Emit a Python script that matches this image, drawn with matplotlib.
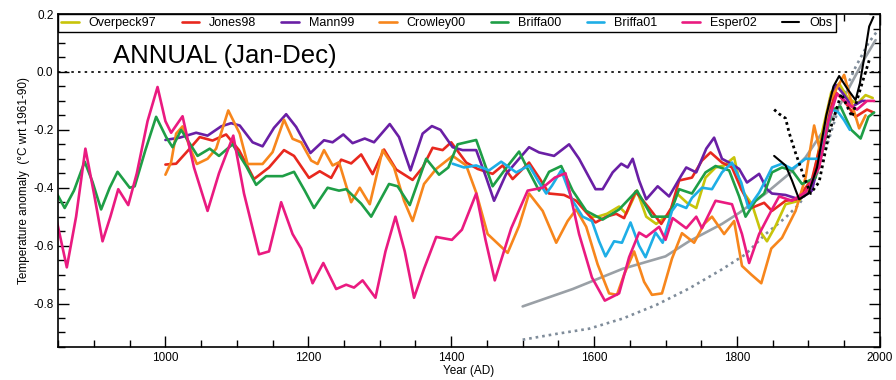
import matplotlib
matplotlib.use("Agg")
import matplotlib.pyplot as plt

plt.rcParams['font.family'] = ['Liberation Sans', 'DejaVu Sans']
plt.rcParams['lines.solid_joinstyle'] = 'round'
plt.rcParams['lines.solid_capstyle'] = 'round'

# Esper02
esper_yr = [848, 862, 875, 888, 900, 912, 923, 934, 948, 960, 975, 989, 1000, 1008,
            1024, 1040, 1059, 1075, 1095, 1110, 1131, 1145, 1162, 1178, 1190, 1206,
            1221, 1239, 1253, 1264, 1276, 1294, 1308, 1322, 1335, 1348, 1362, 1379,
            1401, 1415, 1435, 1448, 1461, 1484, 1507, 1528, 1545, 1560, 1579, 1597,
            1615, 1635, 1649, 1663, 1673, 1691, 1700, 1710, 1729, 1743, 1751, 1770,
            1793, 1807, 1817, 1831, 1849, 1859, 1877, 1896, 1915, 1928, 1940, 1955,
            1968, 1982, 1992]
esper_t = [-0.515, -0.675, -0.5, -0.265, -0.42, -0.585, -0.5, -0.405, -0.46, -0.35,
           -0.17, -0.052, -0.17, -0.21, -0.153, -0.33, -0.48, -0.35, -0.22, -0.42,
           -0.63, -0.62, -0.45, -0.56, -0.61, -0.73, -0.66, -0.75, -0.735, -0.745,
           -0.72, -0.78, -0.62, -0.50, -0.62, -0.78, -0.68, -0.57, -0.58, -0.545,
           -0.42, -0.58, -0.72, -0.54, -0.41, -0.40, -0.365, -0.35, -0.56, -0.71,
           -0.79, -0.765, -0.64, -0.555, -0.57, -0.535, -0.58, -0.505, -0.54, -0.50,
           -0.54, -0.445, -0.457, -0.56, -0.66, -0.56, -0.475, -0.43, -0.445, -0.415,
           -0.33, -0.17, -0.075, -0.11, -0.13, -0.1, -0.1]

# Briffa00
briffa00_yr = [848, 859, 872, 887, 898, 910, 922, 933, 950, 957, 972, 987, 1001, 1010,
               1022, 1045, 1062, 1075, 1094, 1113, 1127, 1141, 1164, 1180, 1195, 1208,
               1227, 1243, 1253, 1274, 1288, 1313, 1325, 1342, 1365, 1383, 1396, 1409,
               1435, 1458, 1479, 1495, 1507, 1523, 1537, 1554, 1570, 1589, 1612, 1635,
               1660, 1681, 1705, 1719, 1737, 1756, 1770, 1789, 1803, 1812, 1826, 1838,
               1849, 1863, 1877, 1891, 1910, 1922, 1933, 1945, 1960, 1973, 1984, 1992]
briffa00_t = [-0.42, -0.47, -0.41, -0.31, -0.38, -0.475, -0.40, -0.345, -0.40, -0.395,
              -0.27, -0.155, -0.225, -0.26, -0.2, -0.29, -0.265, -0.29, -0.25, -0.325,
              -0.39, -0.36, -0.36, -0.345, -0.41, -0.47, -0.40, -0.41, -0.405, -0.455,
              -0.50, -0.387, -0.395, -0.46, -0.30, -0.355, -0.33, -0.25, -0.235, -0.395,
              -0.325, -0.275, -0.335, -0.41, -0.345, -0.325, -0.41, -0.48, -0.51, -0.475,
              -0.41, -0.50, -0.50, -0.405, -0.42, -0.347, -0.325, -0.34, -0.43, -0.50,
              -0.445, -0.42, -0.347, -0.33, -0.34, -0.387, -0.365, -0.25, -0.13, -0.12,
              -0.2, -0.23, -0.155, -0.14]

# Mann99
mann_yr = [1000, 1020, 1043, 1059, 1078, 1092, 1104, 1122, 1136, 1152, 1169, 1183, 1203,
           1222, 1234, 1249, 1262, 1279, 1292, 1314, 1327, 1343, 1360, 1373, 1385, 1402,
           1416, 1435, 1449, 1460, 1477, 1495, 1509, 1523, 1544, 1565, 1579, 1602, 1612,
           1626, 1638, 1647, 1654, 1663, 1673, 1689, 1705, 1722, 1729, 1743, 1757, 1768,
           1779, 1789, 1803, 1814, 1831, 1842, 1849, 1868, 1887, 1905, 1920, 1930, 1939,
           1950, 1961, 1975, 1980]
mann_t = [-0.235, -0.227, -0.21, -0.22, -0.188, -0.177, -0.185, -0.243, -0.257, -0.193,
          -0.146, -0.19, -0.28, -0.236, -0.243, -0.216, -0.246, -0.23, -0.243, -0.18,
          -0.225, -0.34, -0.213, -0.187, -0.2, -0.26, -0.27, -0.27, -0.365, -0.445,
          -0.352, -0.30, -0.26, -0.278, -0.29, -0.25, -0.30, -0.405, -0.405, -0.347,
          -0.317, -0.33, -0.30, -0.375, -0.44, -0.395, -0.43, -0.358, -0.33, -0.347,
          -0.265, -0.227, -0.30, -0.313, -0.335, -0.382, -0.352, -0.405, -0.42, -0.425,
          -0.44, -0.41, -0.25, -0.1, -0.045, -0.08, -0.12, -0.1, -0.1]

# Jones98
jones_yr = [1000, 1015, 1034, 1048, 1066, 1085, 1103, 1124, 1145, 1166, 1180, 1201, 1216,
            1232, 1246, 1260, 1274, 1290, 1306, 1323, 1346, 1360, 1374, 1388, 1400, 1421,
            1437, 1458, 1472, 1486, 1509, 1523, 1537, 1558, 1575, 1589, 1602, 1617, 1631,
            1642, 1658, 1677, 1694, 1708, 1719, 1737, 1751, 1763, 1779, 1793, 1806, 1820,
            1838, 1849, 1868, 1884, 1905, 1920, 1938, 1950, 1966, 1982, 1991]
jones_t = [-0.32, -0.317, -0.265, -0.225, -0.237, -0.216, -0.27, -0.37, -0.33, -0.27,
           -0.29, -0.366, -0.343, -0.366, -0.303, -0.316, -0.285, -0.353, -0.268, -0.337,
           -0.373, -0.33, -0.262, -0.27, -0.243, -0.313, -0.335, -0.352, -0.323, -0.37,
           -0.313, -0.365, -0.42, -0.425, -0.445, -0.485, -0.52, -0.50, -0.49, -0.505,
           -0.413, -0.47, -0.525, -0.47, -0.375, -0.365, -0.306, -0.278, -0.313, -0.33,
           -0.405, -0.47, -0.452, -0.48, -0.445, -0.44, -0.37, -0.22, -0.07, -0.1,
           -0.155, -0.13, -0.14]

# Crowley00
crowley_yr = [1000, 1008, 1015, 1024, 1034, 1044, 1059, 1071, 1088, 1104, 1115, 1136,
              1150, 1166, 1178, 1190, 1204, 1213, 1222, 1234, 1243, 1260, 1272, 1286,
              1304, 1320, 1334, 1346, 1362, 1379, 1402, 1421, 1435, 1451, 1479, 1495,
              1509, 1528, 1547, 1563, 1575, 1589, 1605, 1621, 1632, 1642, 1656, 1670,
              1681, 1695, 1709, 1723, 1740, 1754, 1765, 1782, 1796, 1807, 1820, 1834,
              1848, 1863, 1882, 1896, 1908, 1916, 1930, 1950, 1962, 1971, 1980]
crowley_t = [-0.355, -0.312, -0.213, -0.188, -0.26, -0.318, -0.30, -0.265, -0.133, -0.213,
             -0.318, -0.318, -0.277, -0.165, -0.231, -0.243, -0.306, -0.318, -0.27, -0.323,
             -0.312, -0.45, -0.40, -0.457, -0.27, -0.33, -0.445, -0.515, -0.387, -0.335,
             -0.29, -0.323, -0.417, -0.56, -0.625, -0.532, -0.42, -0.48, -0.59, -0.515,
             -0.475, -0.535, -0.665, -0.765, -0.77, -0.70, -0.62, -0.725, -0.77, -0.765,
             -0.645, -0.557, -0.59, -0.525, -0.50, -0.56, -0.515, -0.67, -0.70, -0.73,
             -0.61, -0.573, -0.48, -0.365, -0.185, -0.27, -0.1, -0.01, -0.12, -0.195, -0.15]

# Overpeck97
overpeck_yr = [1595, 1605, 1618, 1635, 1645, 1660, 1673, 1687, 1705, 1716, 1730, 1743,
               1756, 1770, 1782, 1796, 1806, 1821, 1834, 1842, 1854, 1868, 1887, 1905,
               1920, 1932, 1943, 1955, 1968, 1980, 1990]
overpeck_t = [-0.50, -0.50, -0.49, -0.465, -0.49, -0.41, -0.50, -0.525, -0.49, -0.42,
              -0.452, -0.47, -0.365, -0.33, -0.323, -0.295, -0.405, -0.457, -0.557, -0.585,
              -0.532, -0.457, -0.445, -0.387, -0.2, -0.07, -0.04, -0.09, -0.11, -0.08, -0.09]

# Briffa01
briffa01_yr = [1402, 1418, 1435, 1453, 1470, 1491, 1509, 1523, 1533, 1541, 1554, 1570,
               1584, 1597, 1607, 1616, 1628, 1639, 1651, 1663, 1672, 1686, 1696, 1709,
               1716, 1729, 1737, 1751, 1765, 1779, 1793, 1806, 1816, 1831, 1842, 1849,
               1863, 1877, 1896, 1915, 1925, 1933, 1942, 1950, 1958]
briffa01_t = [-0.317, -0.33, -0.323, -0.34, -0.31, -0.347, -0.323, -0.382, -0.42, -0.393,
              -0.34, -0.445, -0.50, -0.515, -0.585, -0.637, -0.585, -0.59, -0.52, -0.60,
              -0.64, -0.555, -0.59, -0.48, -0.457, -0.47, -0.435, -0.40, -0.405, -0.347,
              -0.313, -0.382, -0.47, -0.417, -0.365, -0.33, -0.317, -0.335, -0.30, -0.30,
              -0.2, -0.13, -0.14, -0.167, -0.2]

# Observations (solid) and dotted observational curve
obs_yr = [1852, 1868, 1877, 1887, 1900, 1912, 1925, 1935, 1943, 1955, 1966, 1972, 1978,
          1985, 1991]
obs_t = [-0.29, -0.323, -0.375, -0.44, -0.42, -0.33, -0.15, -0.05, -0.014, -0.06, -0.097,
         -0.04, 0.048, 0.157, 0.19]
obs_dot_yr = [1852, 1859, 1868, 1873, 1882, 1893, 1903, 1915, 1929, 1946, 1961, 1975, 1985]
obs_dot_t = [-0.13, -0.145, -0.16, -0.21, -0.28, -0.357, -0.42, -0.38, -0.21, -0.075,
             -0.155, -0.04, 0.04]

# grey curves
grey_yr = [1500, 1570, 1640, 1700, 1733, 1779, 1803, 1840, 1873, 1896, 1915, 1938, 1961,
           1980, 1994]
grey_t = [-0.81, -0.75, -0.68, -0.637, -0.585, -0.525, -0.487, -0.42, -0.352, -0.295,
          -0.225, -0.143, -0.035, 0.052, 0.11]
greydot_yr = [1500, 1547, 1593, 1640, 1687, 1733, 1779, 1812, 1840, 1868, 1887, 1910,
              1924, 1947, 1966, 1984, 1996]
greydot_t = [-0.925, -0.905, -0.887, -0.852, -0.805, -0.748, -0.682, -0.63, -0.56, -0.503,
             -0.457, -0.365, -0.27, -0.087, 0.017, 0.1, 0.14]

fig = plt.figure(figsize=(8.96, 3.8), dpi=100)
ax = fig.add_axes([0.065, 0.087, 0.917, 0.876])

lw = 1.9
ax.axhline(0.0, color='black', ls=(0, (1.5, 2.5)), lw=1.2)
ax.plot(grey_yr, grey_t, color='#9aa0a6', lw=lw)
ax.plot(greydot_yr, greydot_t, color='#7f8c9a', lw=lw, ls=(0, (1, 1.5)))

ax.plot(overpeck_yr, overpeck_t, color='#c8c40a', lw=lw, label='Overpeck97')
ax.plot(jones_yr, jones_t, color='#e8281e', lw=lw, label='Jones98')
ax.plot(mann_yr, mann_t, color='#6a1fa5', lw=lw, label='Mann99')
ax.plot(crowley_yr, crowley_t, color='#f7861c', lw=lw, label='Crowley00')
ax.plot(briffa00_yr, briffa00_t, color='#1e9e46', lw=lw, label='Briffa00')
ax.plot(briffa01_yr, briffa01_t, color='#1eaee6', lw=lw, label='Briffa01')
ax.plot(esper_yr, esper_t, color='#ea1a80', lw=lw, label='Esper02')
ax.plot(obs_yr, obs_t, color='black', lw=1.5, label='Obs')
ax.plot(obs_dot_yr, obs_dot_t, color='black', lw=2.0, ls=(0, (1, 1.2)))

ax.set_xlim(850, 2000)
ax.set_ylim(-0.95, 0.2)
ax.set_xticks([1000, 1200, 1400, 1600, 1800, 2000])
ax.set_xticks(range(850, 2001, 50), minor=True)
ax.set_yticks([0.2, 0.0, -0.2, -0.4, -0.6, -0.8])
ax.set_yticklabels(['0.2', '0.0', '-0.2', '-0.4', '-0.6', '-0.8'])
ax.set_yticks([-0.95 + 0.05 * i for i in range(24)], minor=True)
ax.tick_params(which='both', direction='in', top=True, right=True, labelsize=8.5)
ax.tick_params(which='major', length=8, width=1)
ax.tick_params(which='minor', length=5, width=1)
for s in ax.spines.values():
    s.set_linewidth(1.2)

ax.set_xlabel('Year (AD)', fontsize=8.5, labelpad=1)
ax.set_ylabel('Temperature anomaly  (\u00b0C wrt 1961-90)', fontsize=8.5, labelpad=2)

ax.text(0.067, 0.875, 'ANNUAL (Jan-Dec)', transform=ax.transAxes, fontsize=18.5,
        va='center', ha='left')

leg = ax.legend(loc='upper left', bbox_to_anchor=(0, 1, 0.946, 0), mode='expand',
                ncol=8, borderaxespad=0, fontsize=9, handlelength=1.4,
                handletextpad=0.8, fancybox=False, edgecolor='black', framealpha=1,
                borderpad=0.25, columnspacing=0.8)
leg.get_frame().set_linewidth(1.0)

fig.savefig('out.png', dpi=100)
